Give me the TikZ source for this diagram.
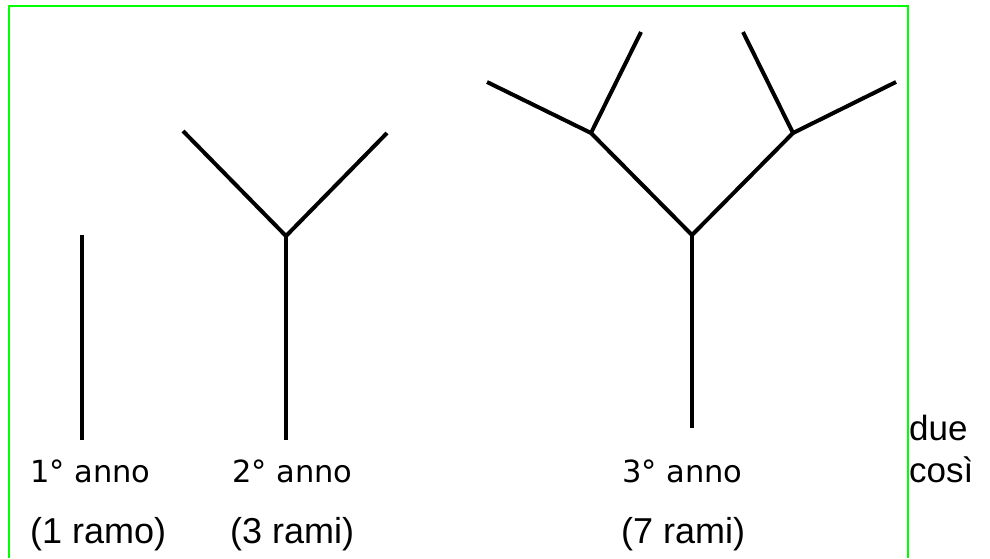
\documentclass[tikz,border=0pt]{standalone}
\usepackage{fontspec}
\setmainfont{Liberation Sans}
\newfontfamily\annofont{DejaVu Sans}
\usetikzlibrary{positioning}

\begin{document}
\begin{tikzpicture}[x=1pt,y=-1pt]
    \useasboundingbox (0,0) rectangle (990,558);

        % frame
        \draw[green, line width=1.5pt] (9,558) -- (9,6) -- (908,6) -- (908,558);

        % points of the three trees, use the tuple for location
        \coordinate (A1) at (82,440);
        \coordinate (B1) at (82,235);

        \coordinate (A2) at (286,440);
        \coordinate (B2) at (286,236);
        \coordinate (C2) at (183,131);
        \coordinate (D2) at (387,133);

        \coordinate (A3) at (692,428);
        \coordinate (B3) at (692,235);
        \coordinate (C3) at (591,133);
        \coordinate (D3) at (793,133);
        \coordinate (E3) at (487,82);
        \coordinate (F3) at (641,32);
        \coordinate (G3) at (743,32);
        \coordinate (H3) at (896,82);

        % branches
        \begin{scope}[every edge/.style={draw=black, line width=4pt}]
        \path [-] (A1) edge[] (B1);

        \path [-] (A2) edge[] (B2);
        \path [-] (B2) edge[] (C2);
        \path [-] (B2) edge[] (D2);

        \path [-] (A3) edge[] (B3);
        \path [-] (B3) edge[] (C3);
        \path [-] (B3) edge[] (D3);
        \path [-] (C3) edge[] (E3);
        \path [-] (C3) edge[] (F3);
        \path [-] (D3) edge[] (G3);
        \path [-] (D3) edge[] (H3);
        \end{scope}

        % labels
        \begin{scope}[every node/.style={anchor=base west, inner sep=0pt}]
        \node[font=\annofont\fontsize{30.5}{36}\selectfont] (anno1) at (30,482) {1° anno};
        \node[font=\annofont\fontsize{30.5}{36}\selectfont] (anno2) at (232,482) {2° anno};
        \node[font=\annofont\fontsize{30.5}{36}\selectfont] (anno3) at (622,482) {3° anno};
        \node[font=\fontsize{36}{42}\selectfont] (rami1) at (30,543) {(1 ramo)};
        \node[font=\fontsize{36}{42}\selectfont] (rami2) at (230,543) {(3 rami)};
        \node[font=\fontsize{36}{42}\selectfont] (rami3) at (621,543) {(7 rami)};
        \node[font=\fontsize{35}{42}\selectfont] (due) at (909,440) {due};
        \node[font=\fontsize{35}{42}\selectfont] (cosi) at (909,482) {così};
        \end{scope}

\end{tikzpicture}
\end{document}
